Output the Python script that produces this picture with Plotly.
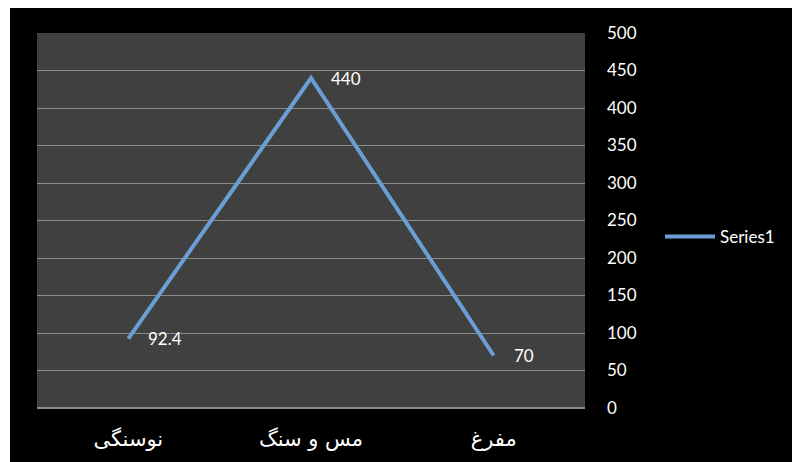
import plotly.graph_objects as go

categories = ["نوسنگی", "مس و سنگ", "مفرغ"]
values = [92.4, 440, 70]
value_labels = ["92.4", "440", "70"]
y_ticks = [0, 50, 100, 150, 200, 250, 300, 350, 400, 450, 500]

OFF = 8  # page body margin
W, H = 800, 462
L, R, T, B = 37 - OFF, 585 - OFF, 33 - OFF, 408 - OFF
pw, ph = R - L, B - T

fig = go.Figure()
fig.add_trace(go.Scatter(
    x=categories, y=values, mode="lines", name="Series1",
    line=dict(color="#6a9fd6", width=4),
    cliponaxis=False,
))

annotations = [
    dict(x=c, y=v, text=t, xref="x", yref="y", showarrow=False,
         xanchor="left", yanchor="middle", xshift=18,
         font=dict(color="#ffffff", size=17, family="Lato, DejaVu Sans"))
    for c, v, t in zip(categories, values, value_labels)
]

fig.update_layout(
    width=W, height=H,
    margin=dict(l=L, r=W - R, t=T, b=H - B),
    paper_bgcolor="#ffffff",
    plot_bgcolor="rgba(0,0,0,0)",
    font=dict(family="Lato, DejaVu Sans", color="#ffffff", size=16),
    xaxis=dict(
        range=[-0.5, 2.5],
        showgrid=False, zeroline=False, showline=False,
        ticks="", ticklabelstandoff=16,
        tickfont=dict(size=21, family="DejaVu Sans, Noto Sans", color="#ffffff"),
    ),
    yaxis=dict(
        side="right", range=[0, 500], tickvals=y_ticks,
        showgrid=True, gridcolor="#8a8a8a", gridwidth=1,
        zeroline=False, showline=False, ticks="",
        ticklabelstandoff=21,
        tickfont=dict(size=17, color="#ffffff"),
    ),
    showlegend=True,
    legend=dict(
        x=(660 - OFF - L) / pw, y=(408 - 237) / 375, xanchor="left", yanchor="middle",
        bgcolor="rgba(0,0,0,0)", font=dict(size=17, color="#ffffff"),
        itemwidth=50,
    ),
    annotations=annotations,
    shapes=[
        dict(type="rect", xref="paper", yref="paper", layer="below",
             x0=(10 - OFF - L) / pw, x1=(W + 20 - L) / pw,
             y0=(B - H - 20) / ph, y1=(B - 7 + OFF) / ph,
             fillcolor="#000000", line=dict(width=0)),
        dict(type="rect", xref="paper", yref="paper", layer="below",
             x0=0, x1=1, y0=0, y1=1,
             fillcolor="#404040", line=dict(width=0)),
        dict(type="line", xref="paper", yref="paper", layer="below",
             x0=0, x1=1, y0=0, y1=0,
             line=dict(color="#8a8a8a", width=2)),
    ],
)

fig.write_html("out.html")
